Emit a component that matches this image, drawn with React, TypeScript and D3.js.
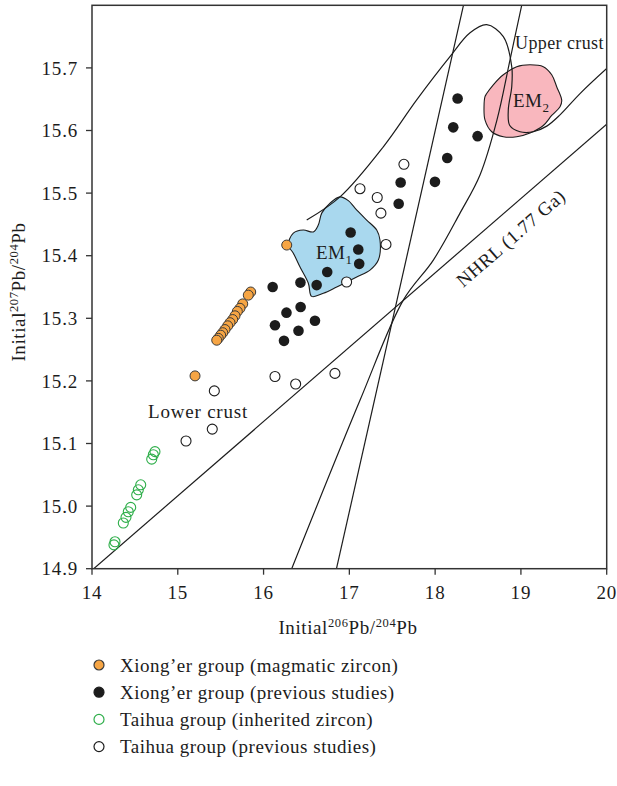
import React from 'react';
import * as d3 from 'd3';

// tick values
const xTicks = [14, 15, 16, 17, 18, 19, 20];
const yTicks = [14.9, 15.0, 15.1, 15.2, 15.3, 15.4, 15.5, 15.6, 15.7];

// Xiong'er group (magmatic zircon)
const magmaticZircon: [number, number][] = [
  [16.27, 15.417], [15.85, 15.342], [15.822, 15.337], [15.757, 15.323], [15.725, 15.316],
  [15.694, 15.311], [15.667, 15.304], [15.64, 15.298], [15.609, 15.293], [15.582, 15.288],
  [15.55, 15.282], [15.524, 15.277], [15.5, 15.273], [15.472, 15.268], [15.454, 15.265],
  [15.201, 15.208],
];

// Xiong'er group (previous studies)
const xiongerPrevious: [number, number][] = [
  [18.262, 15.651], [18.211, 15.605], [18.495, 15.591], [18.141, 15.556], [17.998, 15.518],
  [17.598, 15.517], [17.575, 15.483], [17.015, 15.437], [17.104, 15.41], [17.115, 15.387],
  [16.742, 15.374], [16.619, 15.353], [16.43, 15.357], [16.106, 15.35], [16.432, 15.318],
  [16.267, 15.309], [16.133, 15.289], [16.599, 15.296], [16.407, 15.28], [16.238, 15.264],
];

// Taihua group (inherited zircon)
const taihuaInherited: [number, number][] = [
  [14.734, 15.087], [14.715, 15.082], [14.696, 15.075], [14.568, 15.034], [14.54, 15.026],
  [14.521, 15.018], [14.451, 14.998], [14.423, 14.991], [14.396, 14.982], [14.365, 14.973],
  [14.268, 14.943], [14.256, 14.938],
];

// Taihua group (previous studies)
const taihuaPrevious: [number, number][] = [
  [17.636, 15.546], [17.124, 15.507], [17.325, 15.493], [17.368, 15.468], [17.427, 15.418],
  [16.968, 15.358], [16.133, 15.207], [16.374, 15.195], [15.426, 15.184], [15.402, 15.123],
  [15.096, 15.104], [16.832, 15.212],
];

// reference lines and fields
const nhrl: [number, number][] = [[14.02, 14.9], [20, 15.61]];
const steepLine: [number, number][] = [[16.85, 14.9], [18.33, 15.8]];
const growthCurve: [number, number][] = [
  [16.328, 14.9], [17.124, 15.169], [17.629, 15.329], [17.979, 15.393], [18.29, 15.468],
  [18.523, 15.529], [18.721, 15.617], [18.873, 15.713], [19.009, 15.8],
];
const upperCrust: [number, number][] = [
  [16.503, 15.457], [16.891, 15.494], [17.396, 15.574], [17.785, 15.649], [18.173, 15.718],
  [18.407, 15.756], [18.601, 15.769], [18.795, 15.75], [18.893, 15.702], [18.893, 15.67],
  [18.853, 15.633], [18.87, 15.608], [18.989, 15.598], [19.145, 15.598], [19.301, 15.607],
  [19.456, 15.625], [19.689, 15.659], [20.0, 15.699],
];
const em1: [number, number][] = [
  [16.288, 15.417], [16.347, 15.436], [16.463, 15.441], [16.58, 15.438], [16.638, 15.449],
  [16.678, 15.468], [16.775, 15.484], [16.891, 15.494], [16.988, 15.488], [17.066, 15.476],
  [17.202, 15.457], [17.319, 15.441], [17.357, 15.425], [17.338, 15.393], [17.241, 15.377],
  [17.086, 15.366], [16.853, 15.35], [16.697, 15.34], [16.561, 15.335], [16.522, 15.356],
  [16.425, 15.382], [16.347, 15.404],
];
const em2: [number, number][] = [
  [18.601, 15.659], [18.678, 15.673], [18.795, 15.689], [18.951, 15.702], [19.106, 15.705],
  [19.261, 15.702], [19.359, 15.689], [19.417, 15.67], [19.476, 15.648], [19.456, 15.638],
  [19.359, 15.624], [19.261, 15.608], [19.106, 15.596], [18.951, 15.59], [18.795, 15.59],
  [18.66, 15.598], [18.581, 15.617], [18.57, 15.638], [18.581, 15.654],
];

const legendItems = [
  { label: 'Xiong’er group (magmatic zircon)', fill: '#f6a544', stroke: '#3a3a3a' },
  { label: 'Xiong’er group (previous studies)', fill: '#1c1c1c', stroke: '#1c1c1c' },
  { label: 'Taihua group (inherited zircon)', fill: 'none', stroke: '#2eae4a' },
  { label: 'Taihua group (previous studies)', fill: 'none', stroke: '#1c1c1c' },
];

const FONT = '"Liberation Serif", "Times New Roman", serif';
const INK = '#1c1c1c';

export default function App() {
  const left = 92, right = 606.7, top = 5.3, bottom = 568.7;
  const x = d3.scaleLinear().domain([14, 20]).range([left, right]);
  const y = d3.scaleLinear().domain([14.9, 15.8]).range([bottom, top]);

  const line = d3.line<[number, number]>().x(d => x(d[0])).y(d => y(d[1]));
  const curve = d3.line<[number, number]>().x(d => x(d[0])).y(d => y(d[1])).curve(d3.curveCatmullRom.alpha(0.5));
  const closed = d3.line<[number, number]>().x(d => x(d[0])).y(d => y(d[1])).curve(d3.curveCatmullRomClosed.alpha(0.5));

  const fmt = d3.format('.1f');

  return (
    <svg width={617} height={786} style={{ position: 'absolute', left: 0, top: 0, background: '#fff' }} fontFamily={FONT}>
      <defs>
        <clipPath id="plot">
          <rect x={left} y={top} width={right - left} height={bottom - top} />
        </clipPath>
      </defs>

      <g clipPath="url(#plot)">
        <path d={closed(em1) ?? ''} fill="#a9d8ee" stroke={INK} strokeWidth={1.1} />
        <path d={closed(em2) ?? ''} fill="#f9b7be" stroke={INK} strokeWidth={1.1} />
        <path d={line(nhrl) ?? ''} fill="none" stroke={INK} strokeWidth={1.2} />
        <path d={line(steepLine) ?? ''} fill="none" stroke={INK} strokeWidth={1.2} />
        <path d={curve(growthCurve) ?? ''} fill="none" stroke={INK} strokeWidth={1.2} />
        <path d={curve(upperCrust) ?? ''} fill="none" stroke={INK} strokeWidth={1.2} />
      </g>

      {/* field labels */}
      <text x={148} y={418} fontSize={19} letterSpacing={0.8} fill={INK}>Lower crust</text>
      <text x={515} y={49} fontSize={18} letterSpacing={0.4} fill={INK}>Upper crust</text>
      <text x={316} y={259} fontSize={19} letterSpacing={0.5} fill={INK}>EM<tspan fontSize={13} dy={5}>1</tspan></text>
      <text x={513} y={107} fontSize={19} letterSpacing={0.5} fill={INK}>EM<tspan fontSize={13} dy={5}>2</tspan></text>
      <text transform="translate(515,243) rotate(-41)" textAnchor="middle" fontSize={19} letterSpacing={0.6} fill={INK}>NHRL (1.77 Ga)</text>

      {/* points */}
      {taihuaPrevious.map((d, i) => (
        <circle key={'tp' + i} cx={x(d[0])} cy={y(d[1])} r={5} fill="#fff" stroke={INK} strokeWidth={1.1} />
      ))}
      {taihuaInherited.map((d, i) => (
        <circle key={'ti' + i} cx={x(d[0])} cy={y(d[1])} r={5} fill="none" stroke="#2eae4a" strokeWidth={1.1} />
      ))}
      {xiongerPrevious.map((d, i) => (
        <circle key={'xp' + i} cx={x(d[0])} cy={y(d[1])} r={5.3} fill={INK} />
      ))}
      {magmaticZircon.map((d, i) => (
        <circle key={'mz' + i} cx={x(d[0])} cy={y(d[1])} r={5} fill="#f6a544" stroke="#3a3a3a" strokeWidth={1} />
      ))}

      {/* frame */}
      <rect x={left} y={top} width={right - left} height={bottom - top} fill="none" stroke="#333" strokeWidth={1.5} />

      {/* x axis */}
      {xTicks.map(t => (
        <g key={'x' + t} transform={`translate(${x(t)},${bottom})`}>
          <line y2={6} stroke="#333" strokeWidth={1.3} />
          <text y={30} textAnchor="middle" fontSize={19} letterSpacing={0.8} fill={INK}>{t}</text>
        </g>
      ))}
      {/* y axis */}
      {yTicks.map(t => (
        <g key={'y' + t} transform={`translate(${left},${y(t)})`}>
          <line x2={-6} stroke="#333" strokeWidth={1.3} />
          <text x={-14} dy="0.35em" textAnchor="end" fontSize={19} letterSpacing={0.8} fill={INK}>{fmt(t)}</text>
        </g>
      ))}

      {/* axis titles */}
      <text x={348} y={634} textAnchor="middle" fontSize={19} letterSpacing={0.6} fill={INK}>
        Initial<tspan fontSize={12.5} dy={-7}>206</tspan><tspan dy={7}>Pb/</tspan><tspan fontSize={12.5} dy={-7}>204</tspan><tspan dy={7}>Pb</tspan>
      </text>
      <text transform="translate(25,292) rotate(-90)" textAnchor="middle" fontSize={19} letterSpacing={0.6} fill={INK}>
        Initial<tspan fontSize={12.5} dy={-7}>207</tspan><tspan dy={7}>Pb/</tspan><tspan fontSize={12.5} dy={-7}>204</tspan><tspan dy={7}>Pb</tspan>
      </text>

      {/* legend */}
      {legendItems.map((it, i) => (
        <g key={'lg' + i} transform={`translate(99,${665 + i * 27.2})`}>
          <circle r={5} fill={it.fill} stroke={it.stroke} strokeWidth={1.2} />
          <text x={21} dy="0.35em" fontSize={19} letterSpacing={0.5} fill={INK}>{it.label}</text>
        </g>
      ))}
    </svg>
  );
}
